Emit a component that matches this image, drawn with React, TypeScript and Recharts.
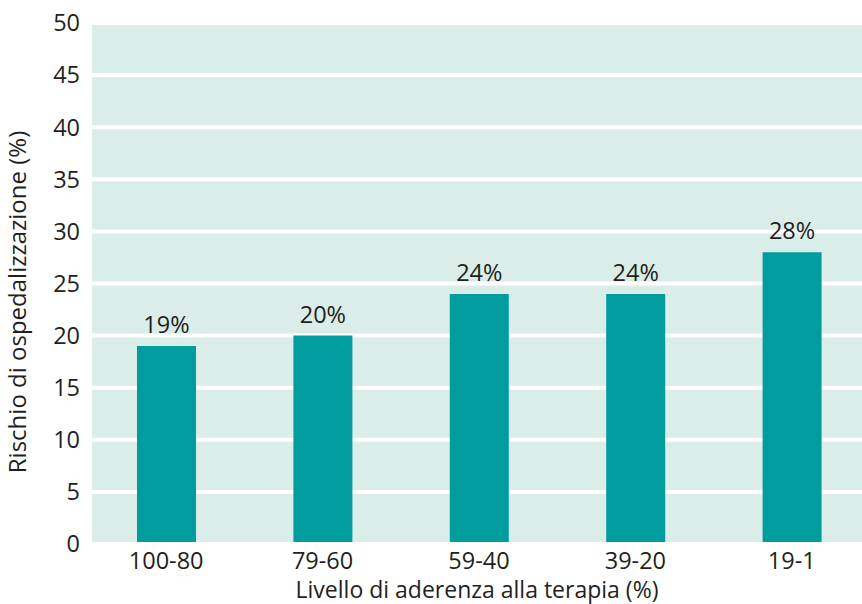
import React from 'react';
import { BarChart, Bar, XAxis, YAxis, CartesianGrid, LabelList, ReferenceLine } from 'recharts';

// Adherence bands and hospitalisation risk (%)
const categories = ['100-80', '79-60', '59-40', '39-20', '19-1'];
const riskValues = [19, 20, 24, 24, 28];
const yTicks = [0, 5, 10, 15, 20, 25, 30, 35, 40, 45, 50];

const xTitle = 'Livello di aderenza alla terapia (%)';
const yTitle = 'Rischio di ospedalizzazione (%)';

const data = categories.map((c, i) => ({ band: c, risk: riskValues[i] }));

const FONT = '"Open Sans", sans-serif';
const TEXT = '#231f20';
const BAR = '#009c9e';
const BG = '#daede8';

const YTitle = () => (
  <text
    x={26}
    y={302}
    transform="rotate(-90 26 302)"
    textAnchor="middle"
    fontFamily={FONT}
    fontSize={24}
    fill={TEXT}
  >
    {yTitle}
  </text>
);

export default function App() {
  return (
    <div style={{ position: 'fixed', left: 0, top: 0, background: '#fff' }}>
      <BarChart
        width={862}
        height={604}
        data={data}
        margin={{ top: 23, right: 0, bottom: 0, left: 0 }}
      >
        <CartesianGrid
          vertical={false}
          stroke="#ffffff"
          strokeWidth={4}
          fill={BG}
          fillOpacity={1}
        />
        <XAxis
          dataKey="band"
          height={60}
          axisLine={false}
          tickLine={false}
          tickSize={0}
          tickMargin={8}
          padding={{ left: -4, right: -8 }}
          tick={{ fill: TEXT, fontSize: 23.5, fontFamily: FONT }}
          label={{
            value: xTitle,
            position: 'insideBottom',
            offset: 6,
            fill: TEXT,
            fontSize: 23,
            fontFamily: FONT,
          }}
        />
        <YAxis
          width={92}
          domain={[0, 50]}
          ticks={yTicks}
          interval={0}
          axisLine={false}
          tickLine={false}
          tickSize={0}
          tickMargin={12}
          tick={{ fill: TEXT, fontSize: 23.5, fontFamily: FONT }}
          label={{ content: () => <YTitle /> }}
        />
        <Bar dataKey="risk" fill={BAR} barSize={59} isAnimationActive={false}>
          <LabelList
            dataKey="risk"
            position="top"
            offset={13}
            formatter={(v: number) => `${v}%`}
            fill={TEXT}
            fontSize={23.5}
            fontFamily={FONT}
          />
        </Bar>
        <ReferenceLine y={0} stroke="#ffffff" strokeWidth={4} />
      </BarChart>
    </div>
  );
}
